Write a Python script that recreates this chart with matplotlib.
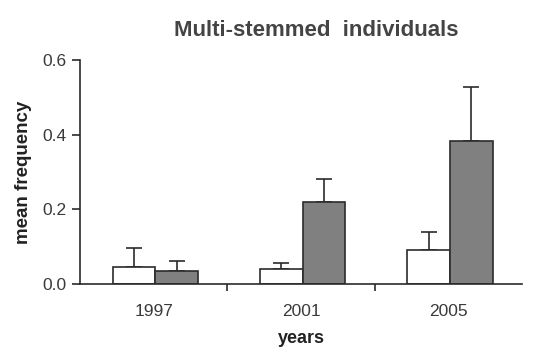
import numpy as np
import matplotlib.pyplot as plt

plt.rcParams['font.family'] = ['Liberation Sans', 'DejaVu Sans']

# datos
years = ['1997', '2001', '2005']
white_mean = [0.046, 0.040, 0.092]
white_err = [0.050, 0.018, 0.047]
gray_mean = [0.036, 0.219, 0.384]
gray_err = [0.026, 0.062, 0.143]

fig = plt.figure(figsize=(5.45, 3.47), dpi=100)
ax = fig.add_axes([0.147, 0.181, 0.811, 0.646])

x = np.arange(len(years)) + 0.5
w = 0.29
edge = '#2b2b2b'

ax.bar(x - 0.135, white_mean, w, color='white', edgecolor=edge, linewidth=1.2, zorder=2)
ax.bar(x + 0.155, gray_mean, w, color='#808080', edgecolor=edge, linewidth=1.2, zorder=2)
ax.errorbar(x - 0.135, white_mean, yerr=[np.zeros(3), white_err], fmt='none',
            ecolor=edge, elinewidth=1.2, capsize=6, capthick=1.2, zorder=1)
ax.errorbar(x + 0.155, gray_mean, yerr=[np.zeros(3), gray_err], fmt='none',
            ecolor=edge, elinewidth=1.2, capsize=6, capthick=1.2, zorder=1)

ax.set_xlim(0, 3)
ax.set_ylim(0, 0.6)
ax.set_yticks([0.0, 0.2, 0.4, 0.6])
ax.set_yticklabels(['0.0', '0.2', '0.4', '0.6'])
ax.set_xticks(x)
ax.set_xticklabels(years)
ax.set_xticks([1, 2], minor=True)
ax.tick_params(axis='x', which='major', length=0, pad=14, labelsize=12.5, labelcolor='#3a3a3a')
ax.tick_params(axis='x', which='minor', length=5, width=1.2, color=edge)
ax.tick_params(axis='y', length=6, width=1.2, color=edge, labelsize=12.5, labelcolor='#3a3a3a')

for s in ['top', 'right']:
    ax.spines[s].set_visible(False)
for s in ['left', 'bottom']:
    ax.spines[s].set_color(edge)
    ax.spines[s].set_linewidth(1.2)

ax.set_xlabel('years', fontsize=13, fontweight='bold', labelpad=8, color='#222222')
ax.set_ylabel('mean frequency', fontsize=13.5, fontweight='bold', labelpad=8, color='#222222')
fig.text(0.58, 0.897, 'Multi-stemmed  individuals', ha='center', fontsize=16,
         fontweight='bold', color='#444444')

fig.savefig('out.png', dpi=100)
